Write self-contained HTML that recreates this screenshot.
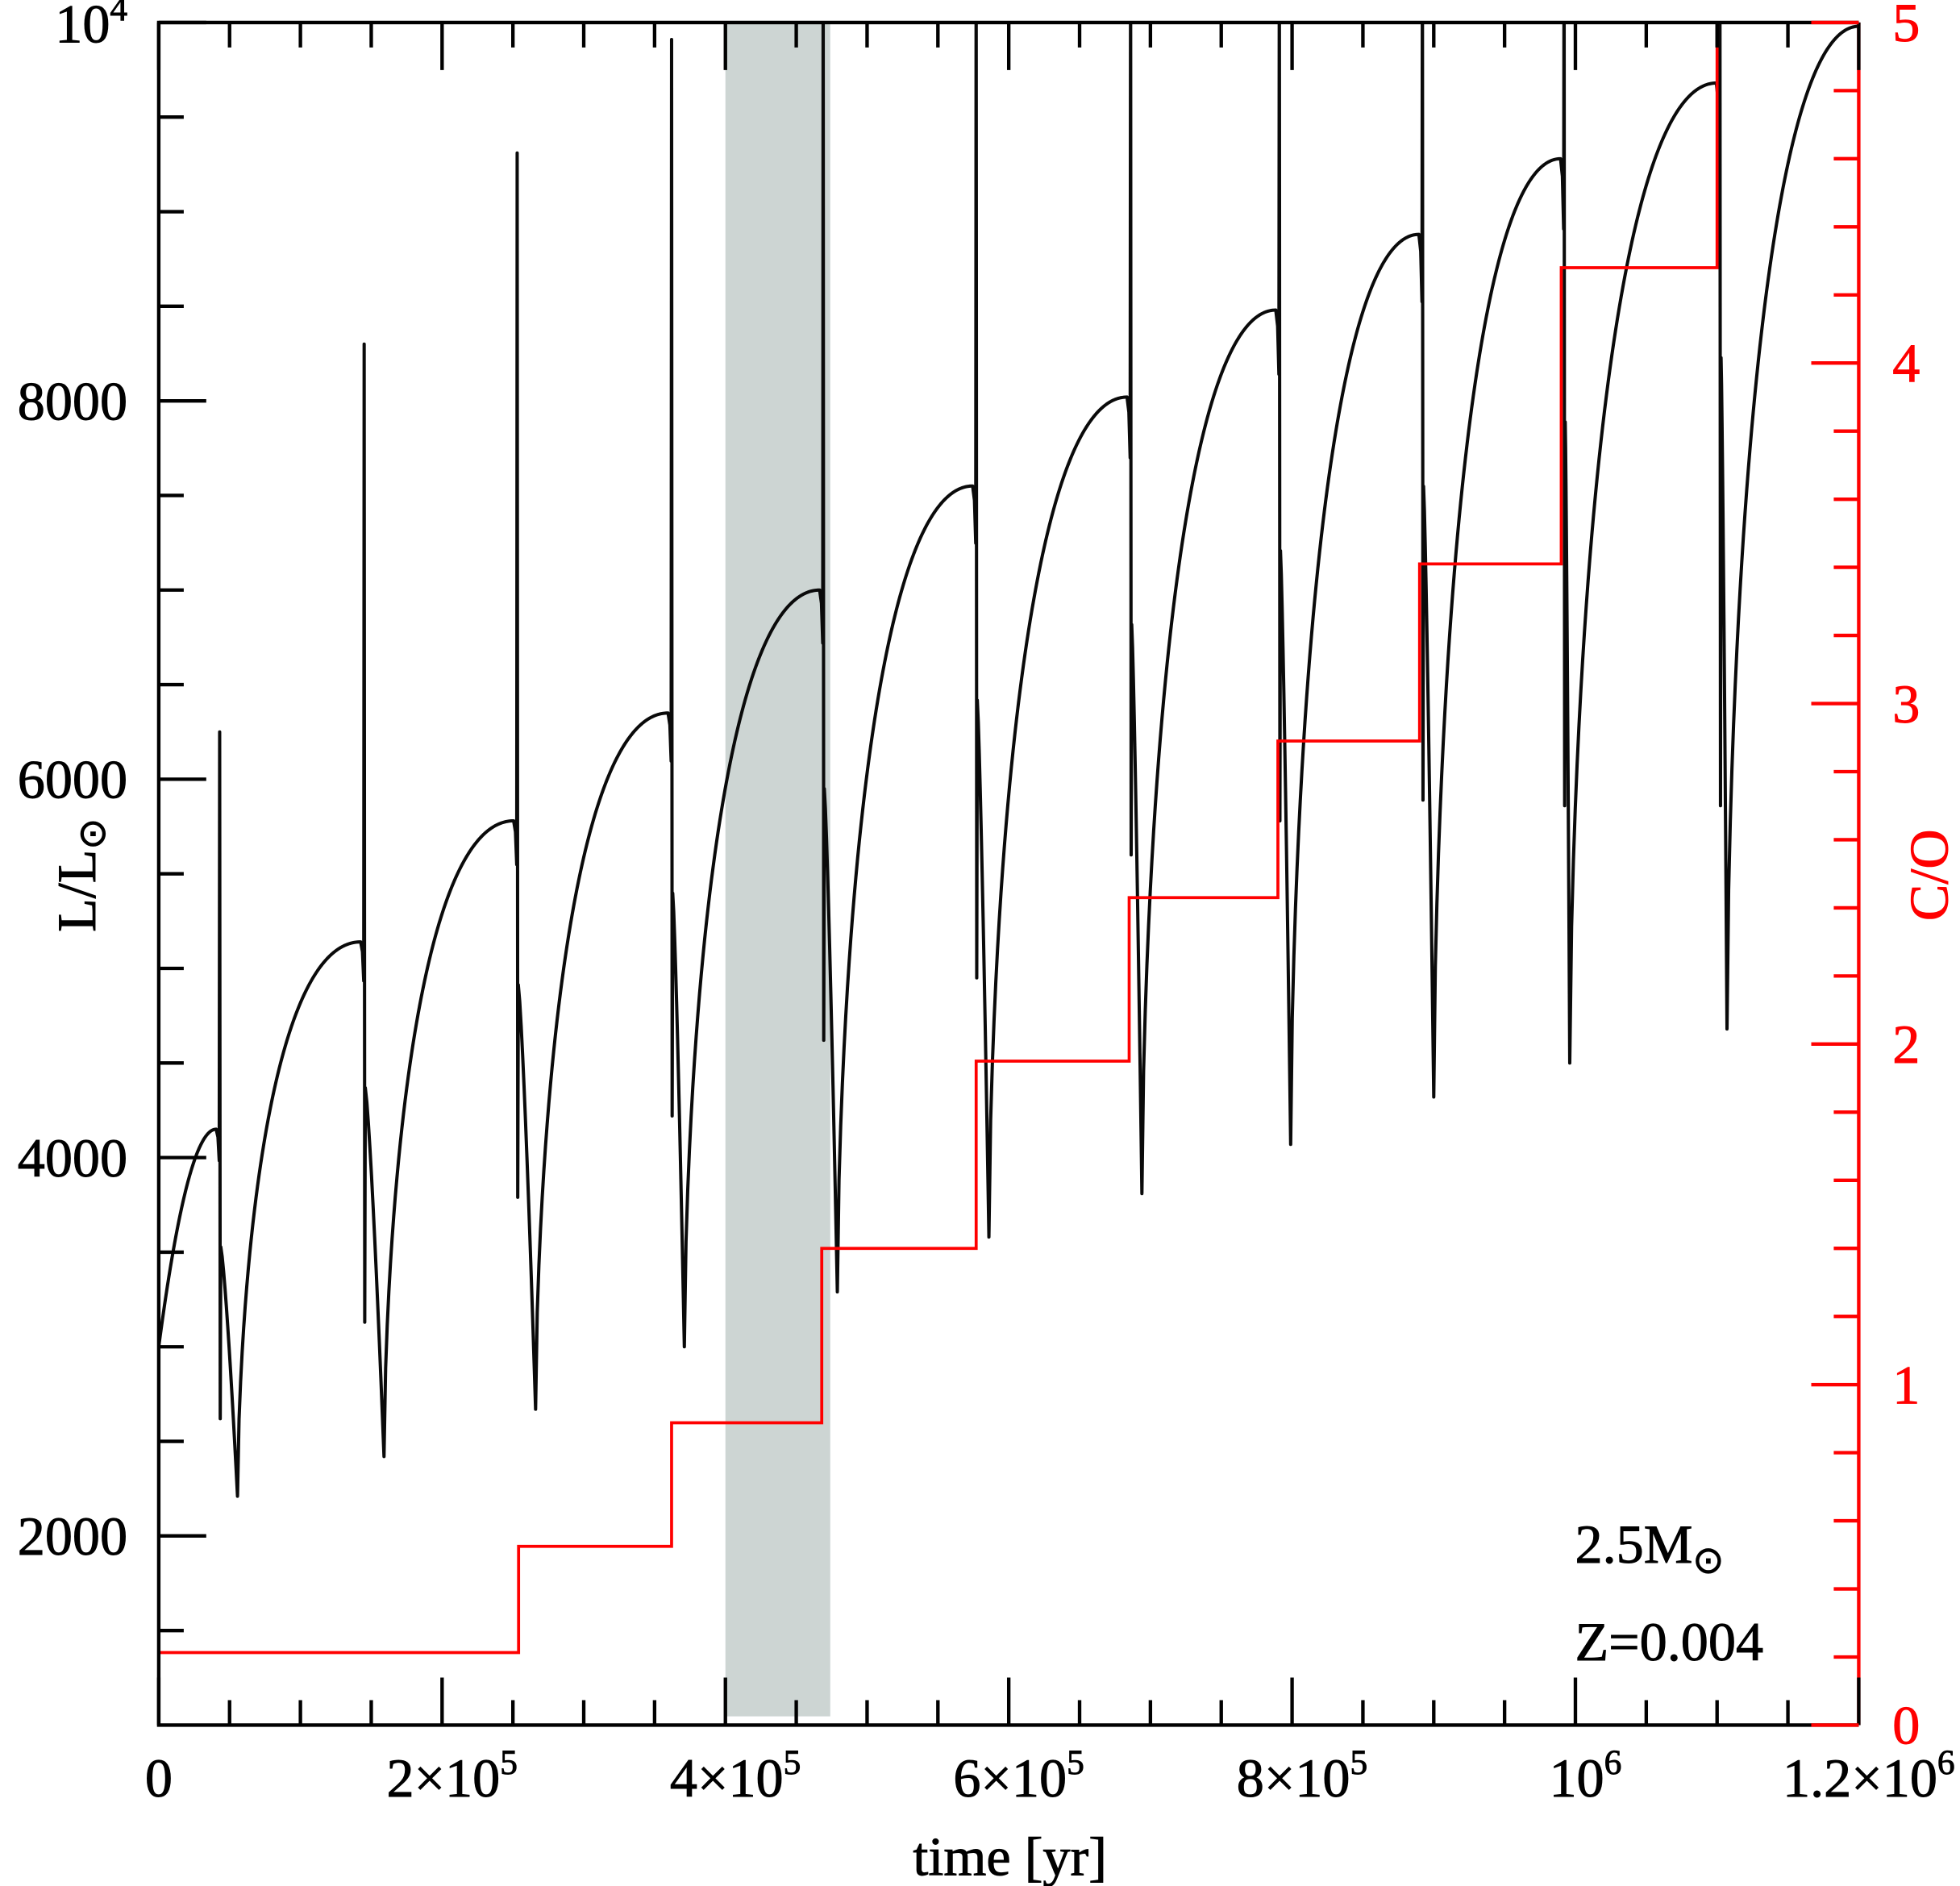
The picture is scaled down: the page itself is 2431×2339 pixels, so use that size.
<!DOCTYPE html>
<html><head><meta charset="utf-8"><style>
html,body{margin:0;padding:0;background:#fff;}
svg{display:block;}
text{font-family:"Liberation Serif",serif;}
</style></head><body>
<svg id="chart" width="2431" height="2339" viewBox="0 0 1568 1508.7" preserveAspectRatio="none" xmlns="http://www.w3.org/2000/svg">
<defs><clipPath id="plotclip"><rect x="127" y="18" width="1360" height="1362"/></clipPath></defs>
<g id="band"></g>
<g id="lum" clip-path="url(#plotclip)"></g>
<g id="co" clip-path="url(#plotclip)"></g>
<g id="axes"></g>
<text x="1260" y="1250" font-size="44" stroke="#000" stroke-width="0.6">2.5M<tspan font-size="30" dy="8">⊙</tspan></text>
<text x="1260" y="1328" font-size="44" stroke="#000" stroke-width="0.6">Z=0.004</text>
<text x="808" y="1500" font-size="44" text-anchor="middle" stroke="#000" stroke-width="0.6">time [yr]</text>
<text transform="translate(76,700) rotate(-90)" font-size="44" text-anchor="middle" stroke="#000" stroke-width="0.6">L/L<tspan font-size="30" dy="8">⊙</tspan></text>
<text transform="translate(1558,700) rotate(-90)" font-size="44" text-anchor="middle" fill="#ff0000" stroke="#ff0000" stroke-width="0.6">C/O</text>
</svg>
<script>
const pulseTimes=[0.43e5,1.45e5,2.53e5,3.62e5,4.69e5,5.77e5,6.86e5,7.91e5,8.92e5,9.92e5,1.102e6];
const peakL=[4150,5140,5780,6350,7000,7550,8020,8480,8880,9280,9680];
const spikeL=[6250,8300,9310,9910,10500,10500,10500,10500,10500,10500,10500];
const dipL=[2620,3130,3790,4220,4620,4950,5600,5780,5890,5860,5860];
const minTimes=[0.556e5,1.59e5,2.66e5,3.71e5,4.79e5,5.86e5,6.94e5,7.99e5,9.0e5,9.96e5,1.107e6];
const minL=[2210,2420,2670,3000,3290,3580,3810,4070,4320,4500,4680];
const startL=3000;
const endTime=1.2e6;
const endL=9980;
const coTimes=[0,2.54e5,3.62e5,4.68e5,5.77e5,6.85e5,7.9e5,8.9e5,9.9e5,1.1e6];
const coValues=[0.213,0.525,0.888,1.40,1.95,2.43,2.89,3.41,4.28,5.0];
const coStart=0.30;
const bandRange=[4.0e5,4.74e5];
const xTicksMajor=[0,2e5,4e5,6e5,8e5,1e6,1.2e6];
const xTickLabels=['0','2×10^5','4×10^5','6×10^5','8×10^5','10^6','1.2×10^6'];
const yTicksMajor=[2000,4000,6000,8000,10000];
const yTickLabels=['2000','4000','6000','8000','10^4'];
const rTicksMajor=[0,1,2,3,4,5];

const X0=127,X1=1487,Y0=18,Y1=1380;
const xs=t=>X0+(t/1.2e6)*(X1-X0);
const ys=L=>Y1-(L-1000)/9000*(Y1-Y0);
const rs=v=>Y1-v/5*(Y1-Y0);
const NS='http://www.w3.org/2000/svg';
function mk(tag,attrs,parent){const e=document.createElementNS(NS,tag);for(const k in attrs)e.setAttribute(k,attrs[k]);parent.appendChild(e);return e;}

const band=mk('rect',{x:xs(bandRange[0]),y:Y0,width:xs(bandRange[1])-xs(bandRange[0]),height:1373-Y0,fill:'#cdd5d3'},document.getElementById('band'));



let pts=[];
function rise(t0,L0,t1,L1,first){for(let i=0;i<=80;i++){const u=i/80;const g=first?u:Math.pow(u,0.6);const f=1-Math.pow(1-g,2);pts.push([t0+(t1-t0)*u,L0+(L1-L0)*f]);}}
let pt=0,pL=startL;
for(let i=0;i<pulseTimes.length;i++){
  const tp=pulseTimes[i];
  rise(pt,pL,tp-2500,peakL[i],i===0);
  pts.push([tp-1200,peakL[i]*0.99]);
  pts.push([tp-300,peakL[i]*0.96]);
  pts.push([tp,spikeL[i]]);
  pts.push([tp+400,dipL[i]]);
  pts.push([tp+800,peakL[i]*0.85]);
  const tm=minTimes[i],Ls=peakL[i]*0.85;
  for(let k=1;k<=12;k++){const u=k/12;const f=Math.pow(u,1.3);pts.push([tp+800+(tm-tp-800)*u,Ls+(minL[i]-Ls)*f]);}
  pt=tm;pL=minL[i];
}
rise(pt,pL,endTime,endL,false);
const lp=mk('path',{d:'M'+pts.map(p=>xs(p[0]).toFixed(2)+','+ys(p[1]).toFixed(2)).join('L'),fill:'none',stroke:'#0a0a0a','stroke-width':2.6,'stroke-linejoin':'round'},document.getElementById('lum'));



let d='M'+xs(0)+','+rs(coStart)+'L'+xs(0)+','+rs(coValues[0]);
for(let i=1;i<coTimes.length;i++){d+='L'+xs(coTimes[i])+','+rs(coValues[i-1])+'L'+xs(coTimes[i])+','+rs(coValues[i]);}
d+='L'+xs(endTime)+','+rs(coValues[coValues.length-1]);
const cp=mk('path',{d:d,fill:'none',stroke:'#ff0000','stroke-width':2.4},document.getElementById('co'));



const ax=document.getElementById('axes');
mk('path',{d:`M${X1},${Y0}L${X0},${Y0}L${X0},${Y1}L${X1},${Y1}`,fill:'none',stroke:'#000','stroke-width':2.8},ax);
mk('line',{x1:X1,y1:Y0,x2:X1,y2:Y1,stroke:'#ff0000','stroke-width':2.8},ax);
let tk='';
for(let t=0;t<=1.2e6+1;t+=5e4){const x=xs(t);const len=(Math.round(t/5e4)%4===0)?38:20;tk+=`M${x},${Y1}v${-len}M${x},${Y0}v${len}`;}
for(let L=1500;L<=10000;L+=500){const y=ys(L);const len=(L%2000===0)?38:20;tk+=`M${X0},${y}h${len}`;}
mk('path',{d:tk,stroke:'#000','stroke-width':2.8,fill:'none'},ax);
let rt='';
for(let k=0;k<=25;k++){const v=k*0.2;const y=rs(v);const len=(k%5===0)?38:20;rt+=`M${X1},${y}h${-len}`;}
mk('path',{d:rt,stroke:'#ff0000','stroke-width':2.8,fill:'none'},ax);
function lab(str,x,y,anchor,fill){const t=mk('text',{x:x,y:y,'font-size':44,'text-anchor':anchor,fill:fill,stroke:fill,'stroke-width':0.6},ax);
  const parts=str.split('^');t.appendChild(document.createTextNode(parts[0]));
  if(parts[1]){const s=mk('tspan',{'font-size':28,dy:-18},t);s.textContent=parts[1];}return t;}
xTicksMajor.forEach((t,i)=>{const e=lab(xTickLabels[i],xs(t)+(i===0?0:8),1437,'middle','#000');
  
  });
yTicksMajor.forEach((L,i)=>{const e=lab(yTickLabels[i],102,ys(L)+(L===10000?16:15),'end','#000');
  
  });
rTicksMajor.forEach(v=>{const e=lab(String(v),1525,rs(v)+15,'middle','#ff0000');
  
  });
</script>
</body></html>
